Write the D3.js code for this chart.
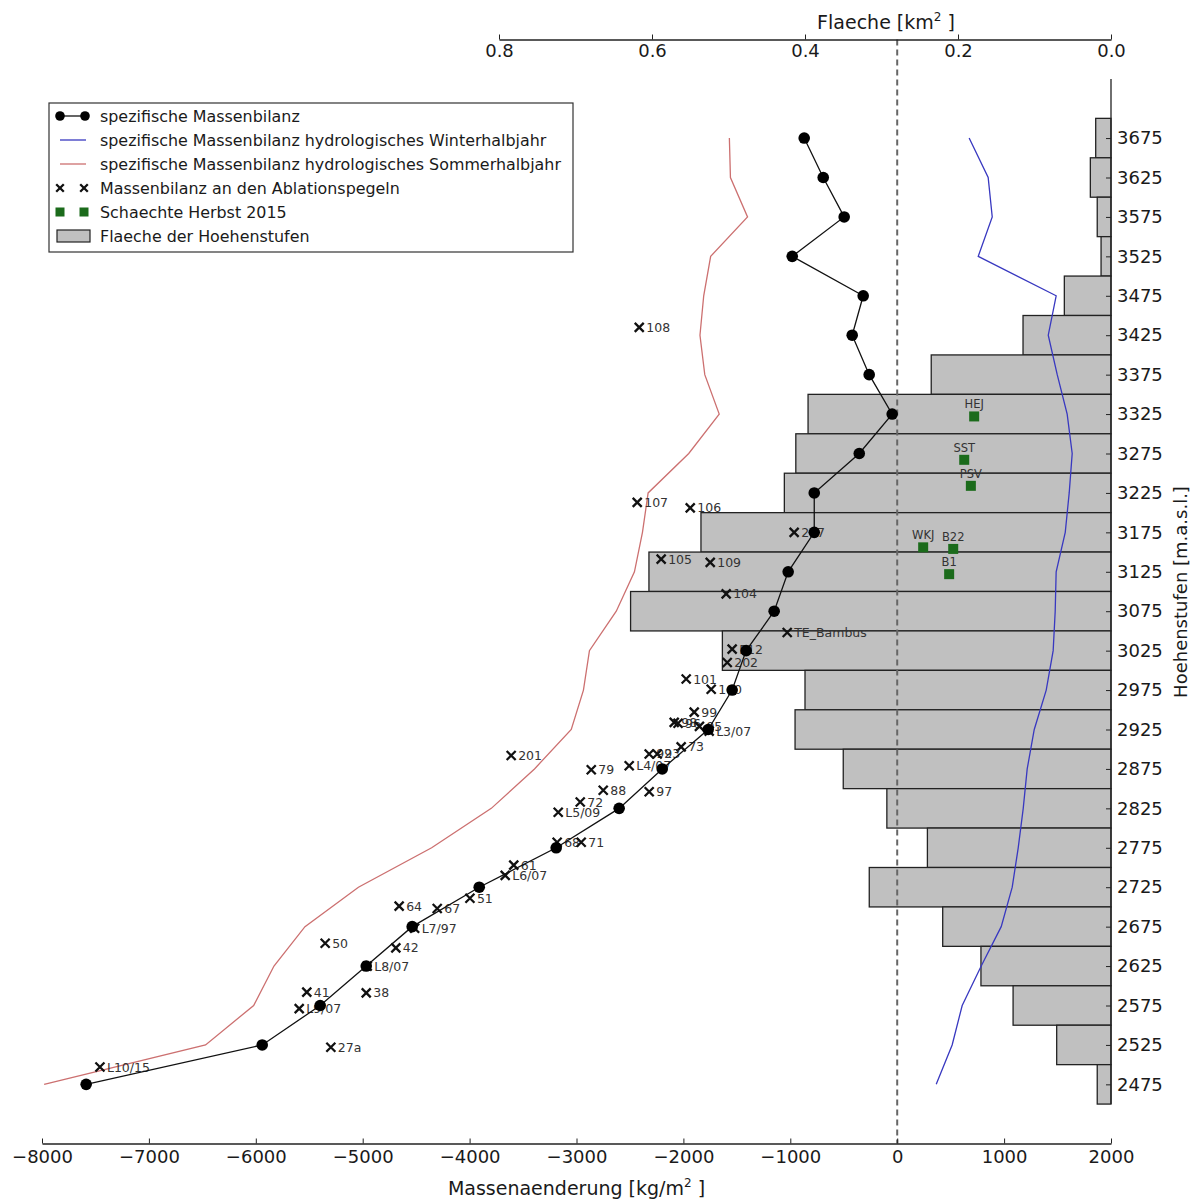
<!DOCTYPE html>
<html><head>
<meta charset="utf-8">
<script src="https://d3js.org/d3.v7.min.js"></script>
<style>
  body { margin: 0; background: white; }
  svg text { font-family: "DejaVu Sans", sans-serif; }
  .tick text { fill: #1a1a1a; }
</style>
</head>
<body>
<svg id="chart" width="1190" height="1200"></svg>
<script>
// elevation bands (m a.s.l.), band centres
const stufen = [3675, 3625, 3575, 3525, 3475, 3425, 3375, 3325, 3275, 3225, 3175, 3125,
                3075, 3025, 2975, 2925, 2875, 2825, 2775, 2725, 2675, 2625, 2575, 2525, 2475];
// area of each band [km2]
const flaeche = [0.020, 0.027, 0.018, 0.013, 0.061, 0.115, 0.235, 0.396, 0.412, 0.427, 0.536, 0.604,
                 0.628, 0.508, 0.400, 0.413, 0.350, 0.293, 0.240, 0.316, 0.220, 0.170, 0.128, 0.071, 0.018];
// specific mass balance [kg/m2]
const massenbilanz = [-870, -692, -496, -982, -318, -421, -262, -47, -355, -776, -776, -1020,
                      -1151, -1413, -1544, -1768, -2198, -2601, -3190, -3910, -4537, -4967, -5398, -5940, -7587];
const winter = [673, 851, 889, 758, 1487, 1413, 1497, 1590, 1637, 1609, 1572, 1487,
                1478, 1459, 1394, 1282, 1216, 1179, 1132, 1076, 973, 786, 608, 514, 365];
const sommer = [-1570, -1560, -1400, -1745, -1810, -1845, -1800, -1665, -1950, -2330, -2383, -2458,
                -2628, -2879, -2935, -3049, -3393, -3797, -4355, -5040, -5540, -5830, -6020, -6470, -7980];

// ablation stakes: name, elevation, mass balance
const pegelName = ["108", "107", "106", "207", "105", "109", "104", "TE_Bambus", "E12", "202",
                   "101", "100", "99", "98", "96", "95", "L3/07", "73", "92", "93", "L4/07", "79",
                   "88", "97", "72", "L5/09", "201", "68", "71", "61", "L6/07", "51", "64", "67",
                   "L7/97", "50", "42", "L8/07", "41", "38", "L9/07", "27a", "L10/15"];
const pegelHoehe = [3435, 3213, 3206, 3175, 3141, 3137, 3097, 3048, 3027, 3010,
                    2989, 2976, 2947, 2934, 2933, 2929, 2923, 2903, 2894, 2894, 2879, 2874,
                    2848, 2846, 2833, 2820, 2892, 2782, 2782, 2753, 2740, 2711, 2701, 2698,
                    2673, 2654, 2648, 2625, 2592, 2591, 2571, 2522, 2497];
const pegelWert = [-2413, -2432, -1936, -964, -2208, -1749, -1600, -1029, -1544, -1590,
                   -1974, -1740, -1899, -2086, -2050, -1850, -1759, -2021, -2320, -2245, -2507, -2862,
                   -2750, -2320, -2965, -3171, -3611, -3181, -2956, -3587, -3667, -3997, -4659, -4303,
                   -4514, -5351, -4690, -4958, -5523, -4967, -5594, -5298, -7458];

// snow pits autumn 2015
const schachtName = ["HEJ", "SST", "PSV", "WKJ", "B22", "B1"];
const schachtHoehe = [3322, 3267, 3234, 3156, 3154, 3122];
const schachtWert = [720, 627, 689, 243, 524, 486];

const xTicks = [-8000, -7000, -6000, -5000, -4000, -3000, -2000, -1000, 0, 1000, 2000];
const topTicks = [0.8, 0.6, 0.4, 0.2, 0.0];

const svg = d3.select("#chart");
const pLeft = 42, pRight = 1111, pTop = 39.5, pBottom = 1143.5;

const x = d3.scaleLinear().domain([-8000, 2000]).range([pLeft, pRight]);
const xTop = d3.scaleLinear().domain([0, 0.8]).range([pRight, 499]);
const y = d3.scaleLinear().domain([2400, 3800]).range([pBottom, pTop]);

const blau = "#3838c0", rot = "#cc7070", gruen = "#1b6b1b";

// area bars
svg.append("g").selectAll("rect").data(stufen).join("rect")
  .attr("x", (d, i) => xTop(flaeche[i]))
  .attr("y", d => y(d + 25))
  .attr("width", (d, i) => xTop(0) - xTop(flaeche[i]))
  .attr("height", d => y(d - 25) - y(d + 25))
  .attr("fill", "#c0c0c0")
  .attr("stroke", "#222")
  .attr("stroke-width", 1.3);

// zero line
svg.append("line")
  .attr("x1", x(0)).attr("x2", x(0))
  .attr("y1", pTop).attr("y2", pBottom)
  .attr("stroke", "#666").attr("stroke-width", 2)
  .attr("stroke-dasharray", "6,4");

const line = d3.line().x(d => x(d[0])).y(d => y(d[1]));

svg.append("path")
  .datum(stufen.map((h, i) => [sommer[i], h]))
  .attr("d", line).attr("fill", "none")
  .attr("stroke", rot).attr("stroke-width", 1.3);

svg.append("path")
  .datum(stufen.map((h, i) => [winter[i], h]))
  .attr("d", line).attr("fill", "none")
  .attr("stroke", blau).attr("stroke-width", 1.3);

// stakes
function kreuz(g, cx, cy, s) {
  g.append("path")
    .attr("d", `M${cx - s},${cy - s}L${cx + s},${cy + s}M${cx - s},${cy + s}L${cx + s},${cy - s}`)
    .attr("stroke", "#111").attr("stroke-width", 2.3).attr("fill", "none");
}
const pegel = svg.append("g");
pegelName.forEach((n, i) => {
  const px = x(pegelWert[i]), py = y(pegelHoehe[i]);
  kreuz(pegel, px, py, 4.5);
  pegel.append("text").text(n)
    .attr("x", px + 7).attr("y", py + 4.5)
    .attr("font-size", 12.5).attr("fill", "#333");
});

// specific mass balance
svg.append("path")
  .datum(stufen.map((h, i) => [massenbilanz[i], h]))
  .attr("d", line).attr("fill", "none")
  .attr("stroke", "#111").attr("stroke-width", 1.3);
svg.append("g").selectAll("circle").data(stufen).join("circle")
  .attr("cx", (d, i) => x(massenbilanz[i]))
  .attr("cy", d => y(d))
  .attr("r", 5.8)
  .attr("fill", "#000");

// snow pits
const schacht = svg.append("g");
schachtName.forEach((n, i) => {
  const sx = x(schachtWert[i]), sy = y(schachtHoehe[i]);
  schacht.append("rect")
    .attr("x", sx - 5).attr("y", sy - 5).attr("width", 10).attr("height", 10)
    .attr("fill", gruen);
  schacht.append("text").text(n)
    .attr("x", sx).attr("y", sy - 8)
    .attr("text-anchor", "middle")
    .attr("font-size", 11.5).attr("fill", "#333");
});

// axes
const bottomAxis = svg.append("g")
  .attr("transform", `translate(0,${pBottom})`)
  .call(d3.axisBottom(x).tickValues(xTicks).tickFormat(d3.format("d"))
        .tickSizeInner(-5).tickSizeOuter(0).tickPadding(7));
const topAxis = svg.append("g")
  .attr("transform", `translate(0,${pTop})`)
  .call(d3.axisBottom(xTop).tickValues(topTicks).tickFormat(d3.format(".1f"))
        .tickSizeInner(-5).tickSizeOuter(0).tickPadding(5));
const rightAxis = svg.append("g")
  .attr("transform", `translate(${pRight},0)`)
  .call(d3.axisRight(y).tickValues(stufen).tickFormat(d3.format("d"))
        .tickSizeInner(-5).tickSizeOuter(0).tickPadding(6));
rightAxis.select(".domain").remove();
svg.append("line")
  .attr("x1", pRight).attr("x2", pRight)
  .attr("y1", y(3750)).attr("y2", y(2450))
  .attr("stroke", "#222").attr("stroke-width", 1.3);

[bottomAxis, topAxis, rightAxis].forEach(a => {
  a.selectAll("text").attr("font-size", 18).attr("font-family", "DejaVu Sans, sans-serif");
  a.selectAll("line").attr("stroke", "#222");
  a.selectAll(".domain").attr("stroke", "#222").attr("stroke-width", 1.3);
});

// axis titles
const bt = svg.append("text")
  .attr("x", (pLeft + pRight) / 2).attr("y", 1195)
  .attr("text-anchor", "middle").attr("font-size", 19).attr("fill", "#1a1a1a")
  .text("Massenaenderung [kg/m");
bt.append("tspan").attr("font-size", 12).attr("dy", -8).text("2");
bt.append("tspan").attr("dy", 8).text(" ]");

const tt = svg.append("text")
  .attr("x", 886).attr("y", 29)
  .attr("text-anchor", "middle").attr("font-size", 19).attr("fill", "#1a1a1a")
  .text("Flaeche [km");
tt.append("tspan").attr("font-size", 12).attr("dy", -8).text("2");
tt.append("tspan").attr("dy", 8).text(" ]");

svg.append("text")
  .attr("transform", "translate(1187,592) rotate(-90)")
  .attr("text-anchor", "middle").attr("font-size", 18).attr("fill", "#1a1a1a")
  .text("Hoehenstufen [m.a.s.l.]");

// legend
const legend = svg.append("g");
legend.append("rect")
  .attr("x", 49).attr("y", 103).attr("width", 524).attr("height", 149)
  .attr("fill", "white").attr("stroke", "#333").attr("stroke-width", 1.2);
const legendText = ["spezifische Massenbilanz",
                    "spezifische Massenbilanz hydrologisches Winterhalbjahr",
                    "spezifische Massenbilanz hydrologisches Sommerhalbjahr",
                    "Massenbilanz an den Ablationspegeln",
                    "Schaechte Herbst 2015",
                    "Flaeche der Hoehenstufen"];
const ly = i => 116 + i * 24;
legendText.forEach((t, i) => {
  legend.append("text").text(t)
    .attr("x", 100).attr("y", ly(i) + 5.5)
    .attr("font-size", 15.9).attr("fill", "#1a1a1a");
});
legend.append("line").attr("x1", 60).attr("x2", 85).attr("y1", ly(0)).attr("y2", ly(0))
  .attr("stroke", "#111").attr("stroke-width", 1.3);
[60, 85].forEach(cx => legend.append("circle").attr("cx", cx).attr("cy", ly(0)).attr("r", 4.8));
legend.append("line").attr("x1", 60).attr("x2", 86).attr("y1", ly(1)).attr("y2", ly(1))
  .attr("stroke", blau).attr("stroke-width", 1.3);
legend.append("line").attr("x1", 60).attr("x2", 86).attr("y1", ly(2)).attr("y2", ly(2))
  .attr("stroke", rot).attr("stroke-width", 1.3);
[60, 84].forEach(cx => kreuz(legend, cx, ly(3), 3.8));
[60, 84].forEach(cx => legend.append("rect")
  .attr("x", cx - 4.5).attr("y", ly(4) - 4.5).attr("width", 9).attr("height", 9)
  .attr("fill", gruen));
legend.append("rect")
  .attr("x", 57).attr("y", ly(5) - 6).attr("width", 33).attr("height", 12)
  .attr("fill", "#c0c0c0").attr("stroke", "#222").attr("stroke-width", 1.2);
</script>
</body>
</html>
